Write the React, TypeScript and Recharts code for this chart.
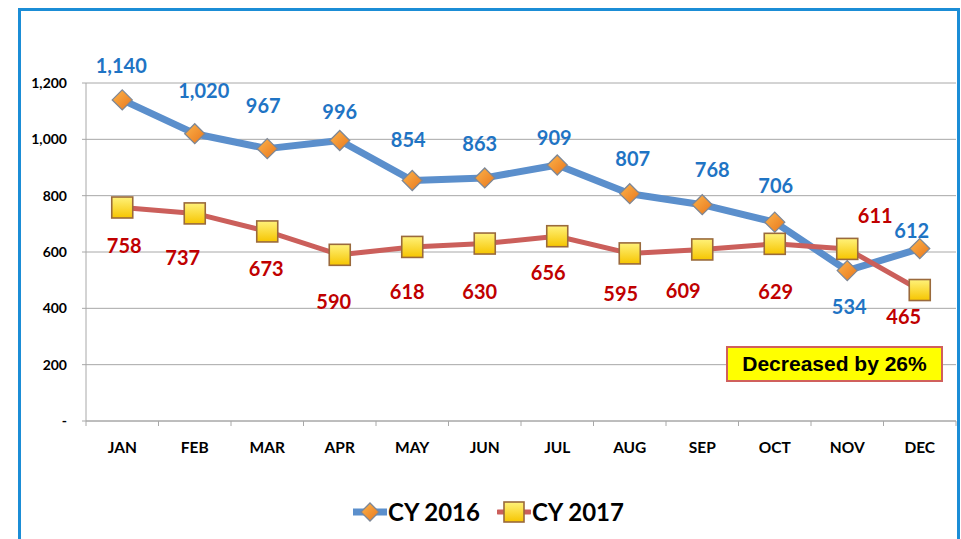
// Monthly volumes CY 2016 vs CY 2017 — Excel-style line chart with data labels.
import React from "react";
import { ComposedChart, Line, XAxis, YAxis, CartesianGrid, LabelList } from "recharts";

const months = ["JAN", "FEB", "MAR", "APR", "MAY", "JUN", "JUL", "AUG", "SEP", "OCT", "NOV", "DEC"];
const cy2016 = [1140, 1020, 967, 996, 854, 863, 909, 807, 768, 706, 534, 612];
const cy2017 = [758, 737, 673, 590, 618, 630, 656, 595, 609, 629, 611, 465];
const yTicks = [0, 200, 400, 600, 800, 1000, 1200];
const seriesNames = ["CY 2016", "CY 2017"];
const note = "Decreased by 26%";

// label nudges [dx, dy] relative to each point, as placed in the original
const nudge2016 = [[-1, -35], [9, -44], [-4, -44], [0, -29], [-4, -41], [-5, -35], [-3, -28], [3, -36], [10, -36], [1, -37], [2, 35], [-8, -19]];
const nudge2017 = [[2, 38], [-12, 44], [-1, 37], [-6, 46], [-5, 44], [-5, 47], [-9, 36], [-9, 40], [-19, 41], [1, 47], [28, -34], [-16, 26]];

const W = 961;
const H = 539;
const M = { top: 83, right: 5, bottom: 88, left: 0 };
const Y_W = 86;
const X_H = 30;
const PLOT_BOTTOM = H - M.bottom - X_H;
const BAND = (W - M.left - M.right - Y_W) / months.length;

const FONT = "Lato, 'Noto Sans', sans-serif";
const BLUE = "#5b8fcc";
const RED = "#cb5f5b";
const BLUE_TXT = "#1f74c4";
const RED_TXT = "#c00000";
const GRID = "#a8a8a8";

const data = months.map((m, i) => ({ m, a: cy2016[i], b: cy2017[i] }));

function diamond(cx: number, cy: number, r: number, key?: any) {
  return (
    <path
      key={key}
      d={`M${cx},${cy - r} L${cx + r},${cy} L${cx},${cy + r} L${cx - r},${cy} Z`}
      fill="url(#orangeFill)"
      stroke="#7d8796"
      strokeWidth={1.3}
    />
  );
}

function square(cx: number, cy: number, r: number, key?: any) {
  return (
    <rect key={key} x={cx - r} y={cy - r} width={r * 2} height={r * 2} fill="url(#yellowFill)" stroke="#9a6a3c" strokeWidth={1.6} />
  );
}

const makeLabel = (nudges: number[][], fill: string) => (p: any) => {
  const [dx, dy] = nudges[p.index] || [0, 0];
  return (
    <text
      key={`l${p.index}`}
      x={p.x + dx}
      y={p.y + dy}
      textAnchor="middle"
      dominantBaseline="central"
      fill={fill}
      style={{ fontFamily: FONT, fontWeight: 700, fontSize: 20 }}
    >
      {Number(p.value).toLocaleString("en-US")}
    </text>
  );
};

function MonthTick(props: any) {
  const { x, y, payload, index } = props;
  return (
    <g>
      <line x1={x - BAND / 2} x2={x - BAND / 2} y1={PLOT_BOTTOM} y2={PLOT_BOTTOM + 5} stroke={GRID} />
      {index === months.length - 1 && (
        <line x1={x + BAND / 2} x2={x + BAND / 2} y1={PLOT_BOTTOM} y2={PLOT_BOTTOM + 5} stroke={GRID} />
      )}
      <text x={x} y={y} textAnchor="middle" dominantBaseline="central" fill="#000" style={{ fontFamily: FONT, fontWeight: 700, fontSize: 15.5 }}>
        {payload.value}
      </text>
    </g>
  );
}

function LegendItem({ name, color, kind }: { name: string; color: string; kind: "d" | "s" }) {
  return (
    <div style={{ display: "flex", alignItems: "center" }}>
      <svg width={34} height={26}>
        <line x1={1} x2={33} y1={13} y2={13} stroke={color} strokeWidth={kind === "d" ? 7 : 5} strokeLinecap="round" />
        {kind === "d" ? diamond(17, 13, 9) : square(17, 13, 10)}
      </svg>
      <span style={{ fontFamily: FONT, fontWeight: 700, fontSize: 24, color: "#000", marginLeft: 1 }}>{name}</span>
    </div>
  );
}

export default function App() {
  return (
    <div style={{ position: "absolute", left: 0, top: 0, width: W, height: H, background: "#fff", overflow: "hidden" }}>
      <div
        style={{
          position: "absolute",
          left: 18,
          top: 8,
          width: 936,
          height: 600,
          border: "3px solid #1b8dd6",
        }}
      />
      <div style={{ position: "absolute", left: 0, top: 0 }}>
        <ComposedChart width={W} height={H} data={data} margin={M}>
          <defs>
            <linearGradient id="orangeFill" x1="0" y1="0" x2="1" y2="1">
              <stop offset="0%" stopColor="#fdb44b" />
              <stop offset="100%" stopColor="#e8761c" />
            </linearGradient>
            <linearGradient id="yellowFill" x1="0" y1="0" x2="0" y2="1">
              <stop offset="0%" stopColor="#fff27a" />
              <stop offset="100%" stopColor="#f6c500" />
            </linearGradient>
          </defs>
          <CartesianGrid vertical={false} stroke={GRID} strokeWidth={1} />
          <XAxis
            dataKey="m"
            scale="band"
            height={X_H}
            axisLine={{ stroke: GRID }}
            tickLine={false}
            tickSize={0}
            tickMargin={26}
            interval={0}
            tick={<MonthTick />}
          />
          <YAxis
            width={Y_W}
            domain={[0, 1200]}
            ticks={yTicks}
            interval={0}
            axisLine={{ stroke: GRID }}
            tickLine={{ stroke: GRID }}
            tickSize={4}
            tickMargin={15}
            tickFormatter={(v: number) => (v === 0 ? "-" : v.toLocaleString("en-US"))}
            tick={{ fontFamily: FONT, fontWeight: 700, fontSize: 14, fill: "#000" }}
          />
          <Line
            dataKey="a"
            name={seriesNames[0]}
            stroke={BLUE}
            strokeWidth={7}
            strokeLinejoin="round"
            isAnimationActive={false}
            dot={(p: any) => diamond(p.cx, p.cy, 10, `d${p.index}`)}
            activeDot={false}
          >
            <LabelList dataKey="a" content={makeLabel(nudge2016, BLUE_TXT)} />
          </Line>
          <Line
            dataKey="b"
            name={seriesNames[1]}
            stroke={RED}
            strokeWidth={5}
            strokeLinejoin="round"
            isAnimationActive={false}
            dot={(p: any) => square(p.cx, p.cy, 10.5, `s${p.index}`)}
            activeDot={false}
          >
            <LabelList dataKey="b" content={makeLabel(nudge2017, RED_TXT)} />
          </Line>
        </ComposedChart>
      </div>
      <div
        style={{
          position: "absolute",
          left: 726,
          top: 346,
          width: 213,
          height: 32,
          background: "#ffff00",
          border: "2px solid #d0605c",
          display: "flex",
          alignItems: "center",
          justifyContent: "center",
          fontFamily: "'Liberation Sans', Arial, sans-serif",
          fontWeight: 700,
          fontSize: 21,
          color: "#000",
        }}
      >
        {note}
      </div>
      <div style={{ position: "absolute", left: 353, top: 497, display: "flex", gap: 17 }}>
        <LegendItem name={seriesNames[0]} color={BLUE} kind="d" />
        <LegendItem name={seriesNames[1]} color={RED} kind="s" />
      </div>
    </div>
  );
}
